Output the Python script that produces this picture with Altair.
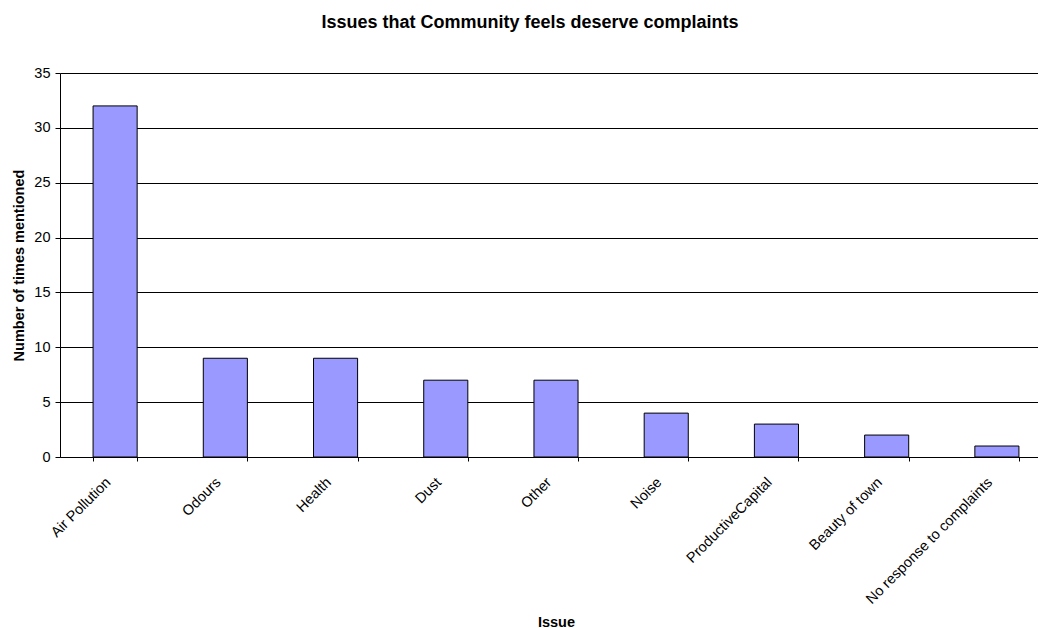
import altair as alt
import pandas as pd

issues = ["Air Pollution", "Odours", "Health", "Dust", "Other", "Noise",
          "ProductiveCapital", "Beauty of town", "No response to complaints"]
counts = [32, 9, 9, 7, 7, 4, 3, 2, 1]

df = pd.DataFrame({"Issue": issues, "Count": counts})
FONT = "Liberation Sans"
FS = 14.5

chart = alt.Chart(df).mark_bar(
    color="#9999FF", stroke="black", strokeWidth=1
).encode(
    x=alt.X("Issue:N", sort=issues, title="Issue",
            scale=alt.Scale(range=[0, 992], paddingInner=0.6, paddingOuter=0.3),
            axis=alt.Axis(labelAngle=315, labelAlign="right", labelBaseline="top",
                          labelPadding=14, labelOffset=-12, tickBand="extent", tickSize=4,
                          tickColor="black", domainColor="black",
                          labelFont=FONT, labelFontSize=FS, labelColor="black",
                          titleFont=FONT, titleFontSize=FS, titleFontWeight="bold",
                          titleColor="black", titleY=169, titleBaseline="alphabetic",
                          labelOverlap=False)),
    y=alt.Y("Count:Q", title="Number of times mentioned",
            scale=alt.Scale(domain=[0, 35]),
            axis=alt.Axis(values=[0, 5, 10, 15, 20, 25, 30, 35], tickSize=5,
                          tickColor="black", domainColor="black",
                          gridColor="black", gridWidth=1, gridOpacity=1,
                          labelFont=FONT, labelFontSize=FS, labelColor="black",
                          labelPadding=5,
                          titleFont=FONT, titleFontSize=FS, titleFontWeight="bold",
                          titleColor="black", titleX=-41, titleY=192,
                          titleAlign="center", titleBaseline="middle", titleAngle=270)),
).properties(
    width=978, height=384,
    title=alt.TitleParams("Issues that Community feels deserve complaints",
                          font=FONT, fontSize=18, fontWeight="bold", color="black",
                          anchor="middle", dx=-19, offset=33),
    autosize=alt.AutoSizeParams(type="none"),
    padding={"left": 60, "top": 73, "right": 0, "bottom": 171},
).configure_view(
    fill="#C0C0C0", stroke=None
).configure(background="white")

chart.save("out.html", embed_options={"renderer": "svg", "actions": False})
